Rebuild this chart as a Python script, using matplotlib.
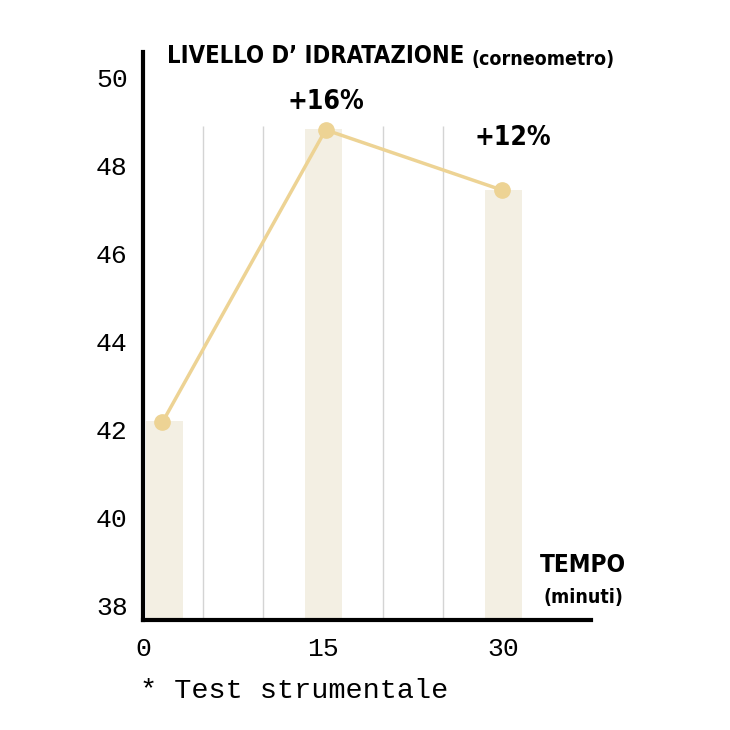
import numpy as np
import matplotlib.pyplot as plt

# minuti, livello d'idratazione
bar_x = np.array([1.8, 15, 30])
bar_h = np.array([42.2, 48.85, 47.45])
pt_x = np.array([1.6, 15.2, 29.9])
pt_y = np.array([42.17, 48.82, 47.45])
grid_x = [5, 10, 20, 25]

yticks = [38, 40, 42, 44, 46, 48, 50]
xticks = [0, 15, 30]

mono = ['Liberation Mono', 'DejaVu Sans Mono']
bold = dict(fontweight='bold', family='DejaVu Sans', fontstretch='condensed')

fig = plt.figure(figsize=(7.3, 7.3), dpi=100)
ax = fig.add_axes([0.196, 0.1507, 0.6136, 0.7781])
ymin = 37.68
ax.set_xlim(0, 37.3)
ax.set_ylim(ymin, 50.59)

ax.vlines(grid_x, ymin, 48.9, color='#d4d4d4', lw=1, zorder=0)
ax.bar(bar_x, bar_h - ymin, bottom=ymin, width=3.1, color='#f3efe3', zorder=1)
ax.plot(pt_x, pt_y, color='#edd394', lw=2.5, marker='o', ms=11, zorder=3)

ax.text(15.2, 49.45, "+16%", ha='center', va='center', fontsize=19, **bold)
ax.text(30.75, 48.64, "+12%", ha='center', va='center', fontsize=19, **bold)

for s in ['top', 'right']:
    ax.spines[s].set_visible(False)
ax.spines['left'].set_linewidth(3)
ax.spines['bottom'].set_linewidth(3)

ax.set_yticks(yticks)
ax.set_xticks(xticks)
ax.tick_params(length=0, labelsize=19, pad=12)
for lab in ax.get_xticklabels() + ax.get_yticklabels():
    lab.set_family(mono)
ax.tick_params(axis='y', pad=11)

title = fig.text(167 / 730, 1 - 56 / 730, "LIVELLO D\u2019 IDRATAZIONE", fontsize=17,
                 va='center', ha='left', **bold)
fig.canvas.draw()
bb = title.get_window_extent()
fig.text((bb.x1 + 7) / 730, 1 - 59 / 730, "(corneometro)", fontsize=14,
         va='center', ha='left', **bold)
fig.text(583 / 730, 1 - 565 / 730, "TEMPO", fontsize=17.5,
         va='center', ha='center', **bold)
fig.text(583 / 730, 1 - 598 / 730, "(minuti)", fontsize=14,
         va='center', ha='center', **bold)
fig.text(140 / 730, 1 - 691 / 730, "* Test strumentale", fontsize=20.5,
         family=mono, va='center', ha='left')

fig.savefig("out.png")
